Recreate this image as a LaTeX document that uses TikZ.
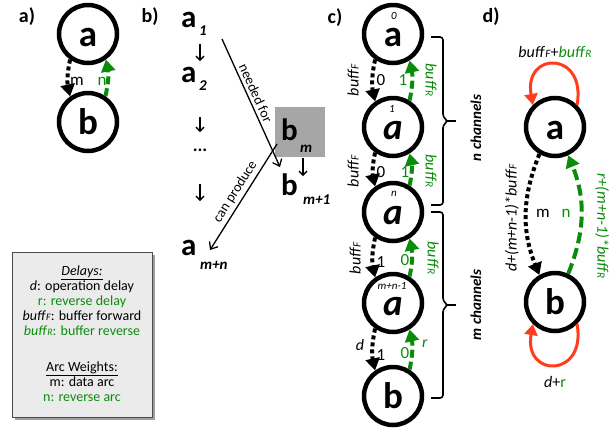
\documentclass[tikz,border=0pt]{standalone}
\usepackage{fontspec}
\setmainfont{Carlito}
\usetikzlibrary{arrows.meta}
\definecolor{grn}{RGB}{10,140,10}
\definecolor{lred}{RGB}{255,60,30}
\newcommand\fsz[1]{\fontsize{#1}{#1}\selectfont}
\newcommand\bufF{\textit{buff}\scalebox{0.7}{\textit{F}}}
\newcommand\bufR{\textit{buff}\scalebox{0.7}{\textit{R}}}
\begin{document}
\begin{tikzpicture}[x=1pt,y=1pt,
  plab/.style={font=\fsz{20}\bfseries},
  nd/.style={circle,draw,line width=4.5pt,minimum size=58pt,inner sep=0pt,
     font=\fsz{37}\bfseries,text height=24pt,text depth=0pt},
  fw/.style={line width=4pt,dash pattern=on 4pt off 3pt,-{Triangle[length=12pt,width=14pt]}},
  rv/.style={grn,line width=4pt,dash pattern=on 8pt off 4pt,-{Triangle[length=12pt,width=14pt]}},
  lp/.style={lred,line width=3pt,-{Triangle[length=11pt,width=13pt]}},
  lbl/.style={font=\fsz{17}},
  sup/.style={font=\fsz{11}\itshape},
  bl/.style={font=\fsz{31}\bfseries,anchor=base west,inner sep=0pt},
  bs/.style={font=\fsz{15}\bfseries\itshape,anchor=base west,inner sep=0pt},
  sm/.style={line width=1.3pt,-{Straight Barb[length=4pt,width=8pt]}},
  ln/.style={line width=1.3pt,-{Straight Barb[length=6pt,width=10pt]}},
  bfl/.style={font=\fsz{16}},
  brc/.style={line width=1.6pt,rounded corners=3pt},
  chl/.style={font=\fsz{15}\bfseries\itshape,rotate=90}
]
\useasboundingbox (0,0) rectangle (616,-432);

% panel labels
\node[plab] (la) at (27,-17) {a)};
\node[plab] (lb) at (150,-17) {b)};
\node[plab] (lc) at (335,-18) {c)};
\node[plab] (ld) at (491,-17) {d)};

% ---------- a)
\node[nd] (A) at (88,-34) {a};
\node[nd] (B) at (88,-122) {b};
\draw[fw] (A.235) to[bend right=12] (B.125);
\draw[rv] (B.56) to[bend right=12] (A.305);
\node[lbl] (am) at (77,-81) {m};
\node[lbl,grn] (an) at (102,-81) {n};

% ---------- b)
\node[bl] (b1) at (181,-27) {a};
\node[bs] (b1s) at (199,-35) {1};
\node[bl] (b2) at (181,-82) {a};
\node[bs] (b2s) at (199,-90) {2};
\node[font=\fsz{18}\bfseries] (bdots) at (200,-150) {...};
\node[bl] (bmn) at (181,-255) {a};
\node[bs] (bmns) at (200,-269) {m+n};
\fill[gray!70] (275,-107) rectangle (325,-157);
\node[bl] (bm) at (281,-140) {b};
\node[bs] (bms) at (300,-152) {m};
\node[bl] (bm1) at (281,-195) {b};
\node[bs] (bm1s) at (303,-204) {m+1};
\coordinate (d1a) at (200,-44); \coordinate (d1b) at (200,-61);
\coordinate (d2a) at (200,-117); \coordinate (d2b) at (200,-132);
\coordinate (d3a) at (200,-184); \coordinate (d3b) at (200,-201);
\coordinate (d4a) at (303,-158); \coordinate (d4b) at (303,-176);
\draw[sm] (d1a) -- (d1b);
\draw[sm] (d2a) -- (d2b);
\draw[sm] (d3a) -- (d3b);
\draw[sm] (d4a) -- (d4b);
\coordinate (nf1) at (222,-39); \coordinate (nf2) at (280,-167);
\coordinate (cp1) at (277,-144); \coordinate (cp2) at (210,-250);
\draw[ln] (nf1) -- node[sloped,above,font=\fsz{14},inner sep=3pt,pos=0.45] {needed for} (nf2);
\draw[ln] (cp1) -- node[sloped,above,font=\fsz{14},inner sep=3pt] {can produce} (cp2);

% ---------- legend
\fill[gray!75] (14.5,-254.5) rectangle (154.5,-419.5);
\draw[fill=gray!16,draw=gray!60!black,line width=0.8pt] (12,-252) rectangle (152,-417);
\node[align=center,font=\fontsize{14}{15}\selectfont] (leg) at (82,-334)
 {\underline{\textit{Delays:}}\\ \textit{d}: operation delay\\ {\color{grn}r: reverse delay}\\
  \bufF: buffer forward\\ {\color{grn}\bufR: buffer reverse}\\[21pt]
  \underline{Arc Weights:}\\ m: data arc\\ {\color{grn}n: reverse arc}};

% ---------- c)
\node[nd] (c0) at (393,-34) {a};
\node[nd] (c1) at (393,-127) {\itshape a};
\node[nd] (c2) at (393,-212) {\itshape a};
\node[nd] (c3) at (393,-303) {\itshape a};
\node[nd] (c4) at (393,-396) {b};
\node[sup] (s0) at (394,-16) {0};
\node[sup] (s1) at (392,-109) {1};
\node[sup] (s2) at (394,-194) {n};
\node[sup] (s3) at (392,-286) {m+n-1};
\draw[fw] (c0.235) to[bend right=12] (c1.125);
\draw[rv] (c1.58) to[bend right=12] (c0.302);
\draw[fw] (c1.235) to[bend right=12] (c2.125);
\draw[rv] (c2.58) to[bend right=12] (c1.302);
\draw[fw] (c2.235) to[bend right=12] (c3.125);
\draw[rv] (c3.58) to[bend right=12] (c2.302);
\draw[fw] (c3.235) to[bend right=12] (c4.125);
\draw[rv] (c4.58) to[bend right=12] (c3.302);
% labels pair 1
\node[lbl] (p1a) at (381,-80) {0};
\node[lbl,grn] (p1b) at (403,-80) {1};
\node[bfl,rotate=90] (p1c) at (353,-80) {\bufF};
\node[bfl,rotate=-90,grn] (p1d) at (431,-80) {\bufR};
% pair 2
\node[font=\fsz{12}] (p2e) at (391,-157) {...};
\node[lbl] (p2a) at (381,-172) {0};
\node[lbl,grn] (p2b) at (405,-172) {1};
\node[bfl,rotate=90] (p2c) at (353,-171) {\bufF};
\node[bfl,rotate=-90,grn] (p2d) at (431,-171) {\bufR};
% pair 3
\node[lbl] (p3a) at (381,-262) {1};
\node[lbl,grn] (p3b) at (405,-260) {0};
\node[bfl,rotate=90] (p3c) at (355,-258) {\bufF};
\node[bfl,rotate=-90,grn] (p3d) at (433,-258) {\bufR};
% pair 4
\node[lbl] (p4a) at (381,-355) {1};
\node[lbl,grn] (p4b) at (405,-353) {0};
\node[bfl] (p4c) at (360,-345) {\textit{d}};
\node[bfl,grn] (p4d) at (425,-344) {\textit{r}};
% braces
\draw[brc] (431,-37) -- (443,-37) -- (443,-117) -- (448,-121) -- (443,-125) -- (443,-205) -- (431,-205);
\draw[line width=1.6pt] (446,-121) -- (456,-121);
\draw[brc] (431,-212) -- (443,-212) -- (443,-301) -- (448,-305) -- (443,-309) -- (443,-398) -- (431,-398);
\draw[line width=1.6pt] (446,-305) -- (456,-305);
\node[chl] (nch) at (476,-128) {n channels};
\node[chl] (mch) at (476,-305) {m channels};

% ---------- d)
\node[nd] (da) at (555,-127) {a};
\node[nd] (db) at (555,-302) {b};
\draw[fw] (da.240) to[bend right=22] (db.120);
\draw[rv,dash pattern=on 11pt off 5pt] (db.65) to[bend right=22] (da.295);
\draw[lp] (da.45) .. controls +(80:55) and +(100:55) .. (da.135);
\draw[lp] (db.-45) .. controls +(-80:55) and +(-100:55) .. (db.-135);
\node[bfl] (dl1) at (555,-52) {\bufF+{\color{grn}\bufR}};
\node[bfl] (dl2) at (555,-382) {\textit{d}+{\color{grn}r}};
\node[lbl] (dm) at (543,-213) {m};
\node[lbl,grn] (dn) at (566,-213) {n};
\node[bfl,rotate=90] (dl3) at (512,-218) {\textit{d+(m+n-1)*}\bufF};
\node[bfl,rotate=-90,grn] (dl4) at (602,-226) {\textit{r+(m+n-1)*}\bufR};
\end{tikzpicture}
\end{document}
